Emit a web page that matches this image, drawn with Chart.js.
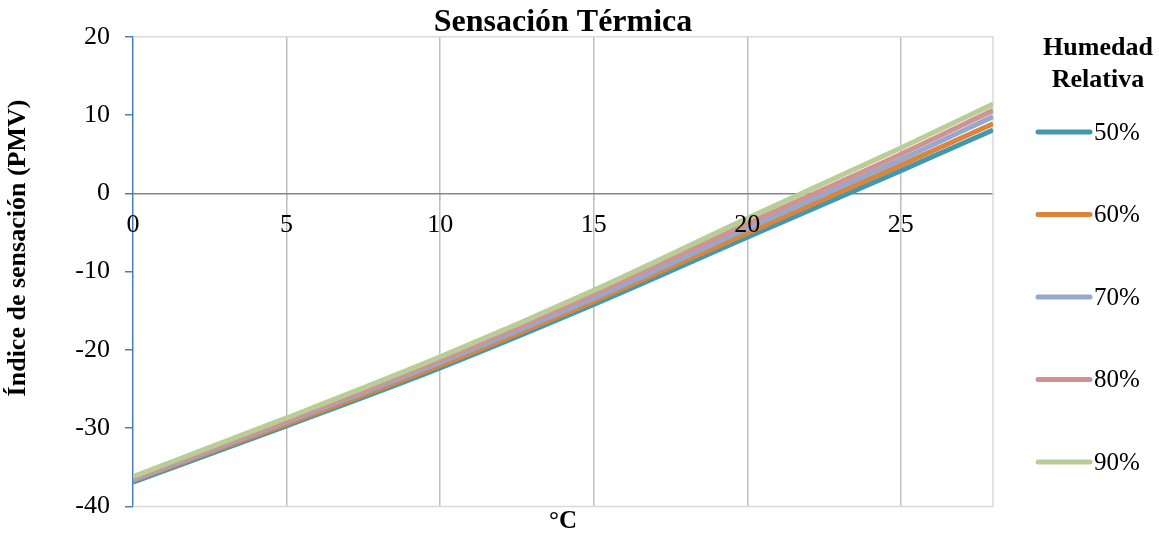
<!DOCTYPE html>
<html lang="es">
<head>
    <meta charset="UTF-8">
    <title>Sensación Térmica</title>
    <script src="https://cdn.jsdelivr.net/npm/chart.js"></script>
    <style>
        body { margin: 0; background: #fff; }
        .chart-box { position: relative; width: 1159px; height: 537px; }
    </style>
</head>
<body>
    <div class="chart-box">
        <canvas id="pmvChart"></canvas>
    </div>

    <script>
        // temperatura (°C) en el eje x
        const temperaturas = [0, 5, 10, 15, 20, 25, 28];

        // índice PMV para cada humedad relativa
        const humedades = ['50%', '60%', '70%', '80%', '90%'];
        const pmv50 = [-36.9, -29.7, -22.3, -14.2, -5.6, 2.9, 8.1];
        const pmv60 = [-36.7, -29.5, -22.0, -13.8, -5.1, 3.6, 8.9];
        const pmv70 = [-36.6, -29.2, -21.6, -13.4, -4.5, 4.3, 9.8];
        const pmv80 = [-36.4, -29.0, -21.3, -12.9, -3.9, 5.0, 10.6];
        const pmv90 = [-36.2, -28.7, -20.9, -12.4, -3.2, 5.8, 11.4];
        const series = [pmv50, pmv60, pmv70, pmv80, pmv90];

        const colores = ['#4198AF', '#DB843D', '#93A9CF', '#D19392', '#B9CD96'];
        const fuente = '"Liberation Serif", "Times New Roman", serif';

        // leyenda a la derecha y título del eje y
        const leyendaPlugin = {
            id: 'leyenda',
            afterDraw(chart) {
                const ctx = chart.ctx;
                ctx.save();
                ctx.fillStyle = '#000';
                ctx.textAlign = 'center';
                ctx.textBaseline = 'middle';
                ctx.font = 'bold 26px ' + fuente;
                ctx.fillText('Humedad', 1098, 48);
                ctx.fillText('Relativa', 1098, 80);

                ctx.save();
                ctx.translate(18, 248);
                ctx.rotate(-Math.PI / 2);
                ctx.fillText('Índice de sensación (PMV)', 0, 0);
                ctx.restore();

                ctx.font = '25px ' + fuente;
                ctx.textAlign = 'left';
                chart.data.datasets.forEach((ds, i) => {
                    const y = 132 + i * 82.5;
                    ctx.strokeStyle = ds.borderColor;
                    ctx.lineWidth = 5;
                    ctx.lineCap = 'round';
                    ctx.beginPath();
                    ctx.moveTo(1038, y);
                    ctx.lineTo(1090, y);
                    ctx.stroke();
                    ctx.fillText(ds.label, 1094, y + 1);
                });
                ctx.restore();
            }
        };

        // borde gris claro del área de trazado
        const bordePlugin = {
            id: 'borde',
            beforeDatasetsDraw(chart) {
                const { ctx, chartArea: a } = chart;
                ctx.save();
                ctx.strokeStyle = '#D9D9D9';
                ctx.lineWidth = 1.5;
                ctx.beginPath();
                ctx.moveTo(a.left, a.top);
                ctx.lineTo(a.right, a.top);
                ctx.lineTo(a.right, a.bottom);
                ctx.lineTo(a.left, a.bottom);
                ctx.stroke();
                ctx.restore();
            }
        };

        const datasets = series.map((serie, i) => ({
            label: humedades[i],
            data: temperaturas.map((t, k) => ({ x: t, y: serie[k] })),
            borderColor: colores[i],
            backgroundColor: colores[i],
            borderWidth: 5,
            pointRadius: 0,
            cubicInterpolationMode: 'monotone',
            order: series.length - i
        }));

        const ctx = document.getElementById('pmvChart').getContext('2d');
        new Chart(ctx, {
            type: 'line',
            data: { datasets: datasets },
            options: {
                responsive: true,
                maintainAspectRatio: false,
                animation: false,
                layout: { padding: { right: 166, top: 0, bottom: 0, left: 0 } },
                plugins: {
                    legend: { display: false },
                    tooltip: { enabled: false },
                    title: {
                        display: true,
                        fullSize: false,
                        text: 'Sensación Térmica',
                        color: '#000',
                        font: { family: fuente, size: 32, weight: 'bold', lineHeight: 0.9 },
                        padding: { top: 8, bottom: 0 }
                    },
                    subtitle: {
                        display: true,
                        position: 'bottom',
                        fullSize: false,
                        text: '°C',
                        color: '#000',
                        font: { family: fuente, size: 25, weight: 'bold' },
                        padding: { top: 0, bottom: 0 }
                    }
                },
                scales: {
                    x: {
                        type: 'linear',
                        min: 0,
                        max: 28,
                        position: { y: 0 },
                        border: { color: '#868686', width: 1.5 },
                        grid: {
                            color: c => (c.tick && c.tick.value === 0) ? 'rgba(0,0,0,0)' : '#BFBFBF',
                            lineWidth: 1.5,
                            tickLength: 6
                        },
                        ticks: {
                            stepSize: 5,
                            includeBounds: false,
                            padding: 10,
                            maxRotation: 0,
                            z: 1,
                            color: '#000',
                            font: { family: fuente, size: 26 }
                        }
                    },
                    y: {
                        min: -40,
                        max: 20,
                        border: { color: '#4A7EBB', width: 1.5 },
                        grid: { drawOnChartArea: false, color: '#4A7EBB', lineWidth: 1.5, tickLength: 8 },
                        ticks: {
                            stepSize: 10,
                            padding: 15,
                            color: '#000',
                            font: { family: fuente, size: 26 }
                        },
                        title: { display: false },
                        afterFit(scale) { scale.width = 133; }
                    }
                }
            },
            plugins: [bordePlugin, leyendaPlugin]
        });
    </script>
</body>
</html>
